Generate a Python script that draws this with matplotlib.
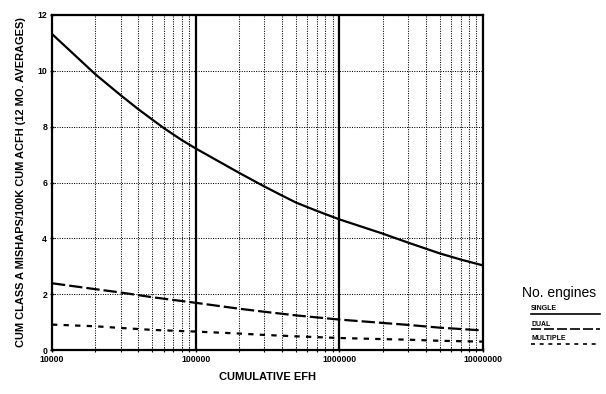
import matplotlib
matplotlib.use("Agg")
import matplotlib.pyplot as plt
from matplotlib.ticker import LogLocator, NullFormatter
from matplotlib.lines import Line2D

plt.rcParams['font.family'] = ['Liberation Sans', 'DejaVu Sans']

efh_single = [1e4, 2e4, 3e4, 4e4, 5e4, 6e4, 8e4, 1e5, 2e5, 3e5, 4e5, 5e5, 7e5,
              1e6, 2e6, 3e6, 4e6, 5e6, 7e6, 1e7]
single = [11.32, 9.88, 9.13, 8.62, 8.25, 7.95, 7.52, 7.22, 6.35, 5.86, 5.53, 5.28, 4.98,
          4.68, 4.17, 3.85, 3.63, 3.46, 3.24, 3.03]

efh = [1e4, 2e4, 3e4, 5e4, 1e5, 2e5, 3e5, 5e5, 1e6, 2e6, 3e6, 5e6, 1e7]
dual = [2.39, 2.18, 2.06, 1.89, 1.69, 1.48, 1.37, 1.24, 1.09, 0.97, 0.90, 0.80, 0.70]
multiple = [0.91, 0.85, 0.79, 0.72, 0.66, 0.59, 0.54, 0.49, 0.43, 0.39, 0.37, 0.33, 0.30]

x_ticks = [1e4, 1e5, 1e6, 1e7]
x_ticklabels = ["10000", "100000", "1000000", "10000000"]
y_ticks = [0, 2, 4, 6, 8, 10, 12]

fig = plt.figure(figsize=(6.06, 3.94), dpi=100)
ax = fig.add_axes([52/606, 44/394, 431/606, 335/394])

ax.set_xscale('log')
ax.set_xlim(1e4, 1e7)
ax.set_ylim(0, 12)

# grid
ax.xaxis.set_minor_locator(LogLocator(base=10, subs=range(2, 10)))
ax.xaxis.set_minor_formatter(NullFormatter())
ax.grid(which='minor', axis='x', color='black', linestyle=(0, (1, 1.3)), linewidth=0.75)
ax.grid(which='major', axis='y', color='black', linestyle=(0, (1, 1.3)), linewidth=0.75)
for xv in x_ticks[1:-1]:
    ax.axvline(xv, color='black', linewidth=1.6)

lw = 1.6
ax.plot(efh_single, single, color='black', linewidth=lw, solid_joinstyle='round')
ax.plot(efh, dual, color='black', linewidth=lw, dashes=(6.0, 1.8))
ax.plot(efh, multiple, color='black', linewidth=lw, dashes=(2.4, 2.8))

ax.set_xticks(x_ticks)
ax.set_xticklabels(x_ticklabels)
ax.set_yticks(y_ticks)
ax.set_yticklabels([str(v) for v in y_ticks])
ax.tick_params(axis='both', which='major', labelsize=6.3, length=3, width=1, direction='inout', pad=2)
ax.tick_params(axis='x', which='minor', length=3, width=0.8, direction='inout')
for lab in ax.get_xticklabels() + ax.get_yticklabels():
    lab.set_fontweight('bold')

for s in ax.spines.values():
    s.set_linewidth(1.6)

ax.set_xlabel("CUMULATIVE EFH", fontsize=8, fontweight='bold', labelpad=6)
ax.set_ylabel("CUM CLASS A MISHAPS/100K CUM ACFH (12 MO. AVERAGES)", fontsize=7.9,
              fontweight='bold', labelpad=8)

# legend
fig.text(522/606, 1 - 293/394, "No. engines", fontsize=10, va='center', ha='left')
labels = ["SINGLE", "DUAL", "MULTIPLE"]
styles = [dict(linestyle='-'), dict(dashes=(6.0, 1.8)), dict(dashes=(2.4, 2.8))]
ys = [314, 329, 344]
for lab, st, yy in zip(labels, styles, ys):
    fig.text(531/606, 1 - (yy - 1.5)/394, lab, fontsize=5, fontweight='bold',
             va='bottom', ha='left')
    fig.add_artist(Line2D([531/606, 600/606], [1 - yy/394, 1 - yy/394],
                          color='black', linewidth=1.2, transform=fig.transFigure, **st))

fig.savefig("out.png", dpi=100, facecolor='white')
